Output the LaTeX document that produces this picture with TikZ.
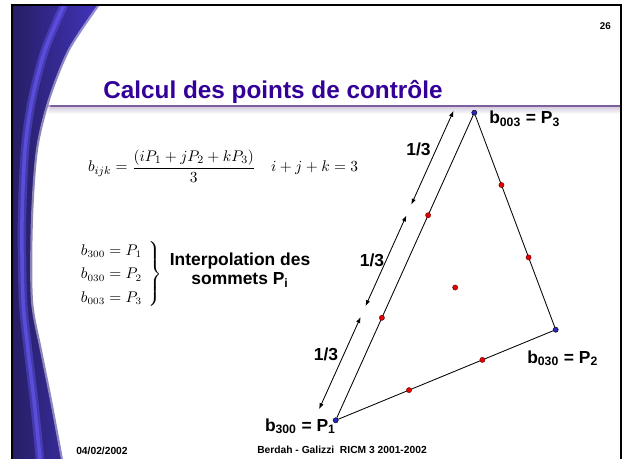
\documentclass[tikz,border=0pt]{standalone}
\usepackage{amsmath}
\usepackage{fontspec}
\setmainfont{Liberation Sans}
\usetikzlibrary{arrows.meta,calc}

\definecolor{swdark}{RGB}{38,30,100}
\definecolor{swmid}{RGB}{66,52,190}
\definecolor{swlight}{RGB}{100,86,238}
\definecolor{titlecol}{RGB}{51,0,153}
\definecolor{rulecol}{RGB}{125,95,155}
\definecolor{vtxblue}{RGB}{40,40,190}
\definecolor{ctlred}{RGB}{230,0,0}

\begin{document}
\begin{tikzpicture}[x=0.025cm,y=-0.025cm,>={Latex[length=1.5mm,width=1.1mm]},
  vtx/.style={circle,draw=black,line width=0.3pt,fill=vtxblue,minimum size=1.3mm,inner sep=0pt},
  ctl/.style={circle,draw=black!60!red,line width=0.3pt,fill=ctlred,minimum size=1.3mm,inner sep=0pt},
  edge/.style={line width=0.6pt},
  lbl/.style={font=\fontsize{12.4}{13.5}\selectfont\bfseries,inner sep=0pt},
  third/.style={font=\fontsize{12.4}{13.5}\selectfont\bfseries,inner sep=1pt},
  foot/.style={font=\fontsize{7.3}{8}\selectfont\bfseries,inner sep=0pt,anchor=base}]
\useasboundingbox (0,0) rectangle (624,459);

% title rule
\shade[top color=rulecol!35,bottom color=white] (46,106) rectangle (621,114);
\draw[rulecol,line width=1.2pt] (46,106) -- (621,106);

% left swoosh
\shade[left color=swdark,right color=swmid] plot[smooth] coordinates {(100,5) (70,50) (50,100) (38,150) (33,220) (33,300) (42,350) (52,400) (63,459)} -- (12,459) -- (12,5) -- cycle;
\draw[swlight,line width=6pt,opacity=0.45] plot[smooth] coordinates {(64,5) (45,50) (32,100) (25,150) (22,220) (23,300) (28,350) (34,400) (40,459)};
\draw[swlight,line width=2.5pt,opacity=0.7] plot[smooth] coordinates {(64,5) (45,50) (32,100) (25,150) (22,220) (23,300) (28,350) (34,400) (40,459)};
\draw[white,line width=3pt,opacity=0.45] plot[smooth] coordinates {(100,5) (70,50) (50,100) (38,150) (33,220) (33,300) (42,350) (52,400) (63,459)};

\node[anchor=base west,text=titlecol,font=\fontsize{17.3}{19}\selectfont\bfseries,inner sep=0pt] (title) at (103,99) {Calcul des points de contrôle};
\node[font=\fontsize{7}{8}\selectfont\bfseries,anchor=base east,inner sep=0pt] (pnum) at (611,30) {26};

% formulas
\node[font=\fontsize{11}{14}\selectfont,inner sep=0pt] (bijk) at (223,166) {$b_{ijk}=\dfrac{(iP_1+jP_2+kP_3)}{3}\quad i+j+k=3$};
\node[font=\fontsize{10.5}{14}\selectfont,inner sep=0pt,anchor=west] (sys) at (79,274) {\def\arraystretch{1.2}$\left.\begin{array}{@{}l@{\hspace{5pt}}} b_{300}=P_1\\ b_{030}=P_2\\ b_{003}=P_3\end{array}\right\}$};
\node[lbl,align=center] (interp) at (240,270) {Interpolation des\\sommets P\textsubscript{i}};

% triangle
\node[vtx] (P1) at (335.7,420.3) {};
\node[vtx] (P2) at (555.7,329.7) {};
\node[vtx] (P3) at (474.3,112.7) {};
\draw[edge] (P1) -- (P2) -- (P3) -- (P1);

\node[ctl] (b210) at ($(P1)!0.3333!(P2)$) {};
\node[ctl] (b120) at ($(P1)!0.6667!(P2)$) {};
\node[ctl] (b021) at ($(P2)!0.3333!(P3)$) {};
\node[ctl] (b012) at ($(P2)!0.6667!(P3)$) {};
\node[ctl] (b201) at ($(P1)!0.3333!(P3)$) {};
\node[ctl] (b102) at ($(P1)!0.6667!(P3)$) {};
\node[ctl] (b111) at ($0.3333*(P1)+0.3333*(P2)+0.3333*(P3)$) {};

\node[lbl,anchor=base east] (l1) at (336,431) {b\textsubscript{300} = P\textsubscript{1}};
\node[lbl,anchor=base west] (l2) at (527,363) {b\textsubscript{030} = P\textsubscript{2}};
\node[lbl,anchor=base west] (l3) at (489,124) {b\textsubscript{003} = P\textsubscript{3}};

% thirds along P1-P3
\coordinate (d1) at ($(P1)!0.01!(P3)+(-18,-8)$);
\coordinate (u1) at ($(P1)!0.31!(P3)+(-18,-8)$);
\coordinate (d2) at ($(P1)!0.345!(P3)+(-18,-8)$);
\coordinate (u2) at ($(P1)!0.64!(P3)+(-18,-8)$);
\coordinate (d3) at ($(P1)!0.675!(P3)+(-18,-8)$);
\coordinate (u3) at ($(P1)!0.98!(P3)+(-18,-8)$);
\draw[<->,edge] (d1) -- node[third,above left] (t1) {1/3} (u1);
\draw[<->,edge] (d2) -- node[third,left] (t2) {1/3} (u2);
\draw[<->,edge] (d3) -- node[third,above left] (t3) {1/3} (u3);

% footer
\node[foot,anchor=base west] (date) at (76,454) {04/02/2002};
\node[foot] (auth) at (342,453) {Berdah - Galizzi\ \ RICM 3 2001-2002};

% frame
\draw[line width=1.8pt] (12,459) -- (12,5) -- (621,5) -- (621,459);
\end{tikzpicture}
\end{document}
